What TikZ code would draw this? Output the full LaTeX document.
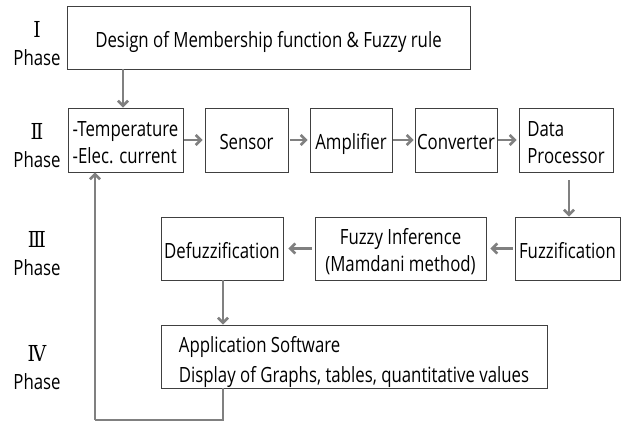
\documentclass[tikz,border=0pt]{standalone}
\usepackage{fontspec}
\setmainfont{Open Sans}[FakeStretch=0.8]
\newfontfamily\numfont{DejaVu Serif}[FakeStretch=0.85]
\usetikzlibrary{arrows.meta}
% box texts sit a little below the middle of their boxes
\newcommand\lowtext[2][l]{\raisebox{-4.5pt}[\height][\depth]{\begin{tabular}{@{}#1@{}}#2\end{tabular}}}
\newcommand\rnum[1]{{\numfont\fontsize{22}{28}\selectfont #1}}
\begin{document}
\begin{tikzpicture}[x=1pt,y=-1pt,
  every node/.style={font=\fontsize{21}{27}\selectfont},
  blk/.style={draw=black!75, line width=0.9pt, inner sep=0pt, anchor=center},
  phase/.style={align=center, font=\fontsize{21}{28}\selectfont},
  flow/.style={draw=black!50, line width=2.6pt, -{Straight Barb[length=5pt,width=10pt]}},
  loopline/.style={draw=black!50, line width=2.6pt, line join=miter}
]
\useasboundingbox (0,0) rectangle (621,426);

% phase labels
\node[phase] (p1) at (37,44) {\rnum{Ⅰ}\\Phase};
\node[phase] (p2) at (37,146) {\rnum{Ⅱ}\\Phase};
\node[phase] (p3) at (37,254) {\rnum{Ⅲ}\\Phase};
\node[phase] (p4) at (37,368) {\rnum{Ⅳ}\\Phase};

% phase I
\node[blk, minimum width=403, minimum height=63] (design) at (268.5,37.5)
  {\lowtext[c]{Design of Membership function \& Fuzzy rule}};

% phase II
\node[blk, minimum width=115, minimum height=64] (temp) at (125.5,140)
  {\lowtext{-Temperature\\-Elec. current}};
\node[blk, minimum width=83, minimum height=64] (sensor) at (246.5,140) {\lowtext[c]{Sensor}};
\node[blk, minimum width=82, minimum height=64] (amp) at (351,140) {\lowtext[c]{Amplifier}};
\node[blk, minimum width=82, minimum height=64] (conv) at (456,140) {\lowtext[c]{Converter}};
\node[blk, minimum width=94, minimum height=64] (proc) at (566,140)
  {\lowtext{Data\\Processor}};

% phase III
\node[blk, minimum width=105, minimum height=63] (fuzz) at (567.5,248.5) {\lowtext[c]{Fuzzification}};
\node[blk, minimum width=171, minimum height=63] (infer) at (400.5,248.5)
  {\lowtext[c]{Fuzzy Inference\\(Mamdani method)}};
\node[blk, minimum width=122, minimum height=63] (defuzz) at (222,248.5) {\lowtext[c]{Defuzzification}};

% phase IV
\node[blk, minimum width=386, minimum height=63,
      font=\fontsize{21}{30}\selectfont] (app) at (354,356.5)
  {\lowtext{Application Software\\Display of Graphs, tables, quantitative values}};

% x positions of the vertical connectors
\coordinate (xa) at (123,0);
\coordinate (xb) at (569,0);
\coordinate (xc) at (223,0);
\coordinate (fb) at (95,420);

\draw[flow] (xa |- design.south) -- (xa |- temp.north);
\draw[flow, shorten <=1pt, shorten >=2pt] (temp.east) -- (sensor.west);
\draw[flow, shorten <=2pt, shorten >=2pt] (sensor.east) -- (amp.west);
\draw[flow, shorten <=1pt, shorten >=1pt] (amp.east) -- (conv.west);
\draw[flow, shorten <=1pt, shorten >=2pt] (conv.east) -- (proc.west);
\draw[flow, shorten <=8pt] (xb |- proc.south) -- (xb |- fuzz.north);
\draw[flow, shorten <=2pt, shorten >=4pt] (fuzz.west) -- (infer.east);
\draw[flow, shorten <=3pt, shorten >=5pt] (infer.west) -- (defuzz.east);
\draw[flow] (xc |- defuzz.south) -- (xc |- app.north);
\draw[loopline] (xc |- app.south) |- (fb);
\draw[flow] (fb) -- (fb |- temp.south);
\end{tikzpicture}
\end{document}
